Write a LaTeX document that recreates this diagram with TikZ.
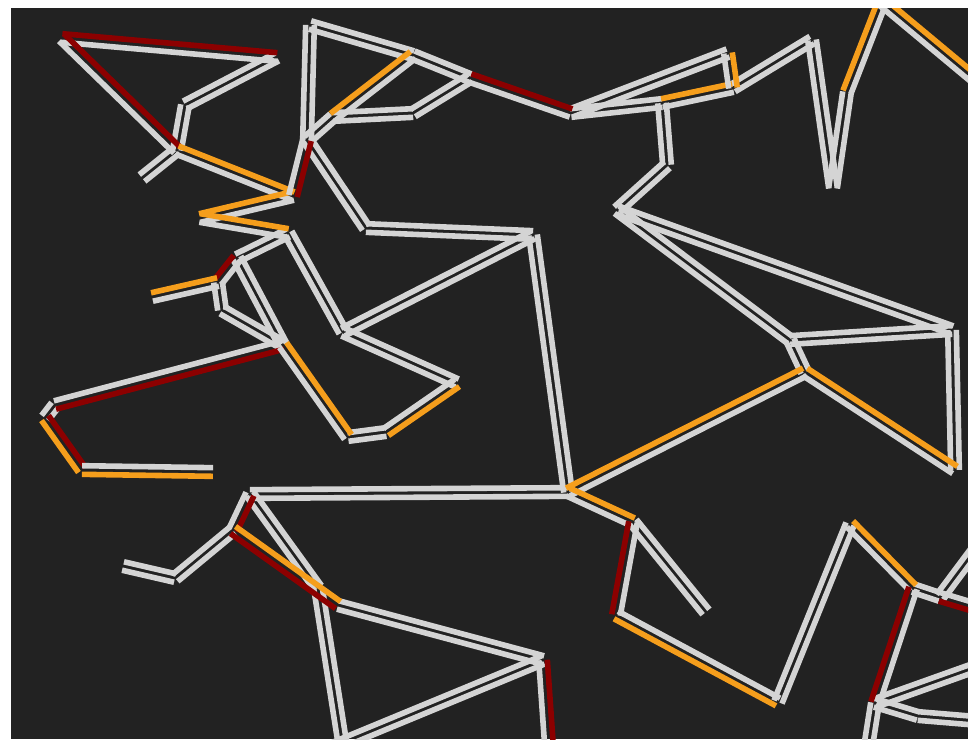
\documentclass[tikz,border=0pt]{standalone}
\usepackage{xcolor}
\usepackage{tikz}
\usetikzlibrary{calc}
\definecolor{roadbg}{RGB}{34,34,34}
\definecolor{lanefree}{RGB}{212,212,212}
\definecolor{laneslow}{RGB}{245,158,28}
\definecolor{lanejam}{RGB}{140,0,0}
\newcommand\laneoff{1.08mm}
% one street = two lanes, one on each side of the axis from #1 to #2
\newcommand\lanepair[4]{%
  \draw[#3] ($(#1)!\laneoff!90:(#2)$) -- ($(#2)!\laneoff!-90:(#1)$);
  \draw[#4] ($(#2)!\laneoff!90:(#1)$) -- ($(#1)!\laneoff!-90:(#2)$);}
\tikzset{
  lane/.style={line width=1.4mm},
  free/.style={lane, lanefree},
  slow/.style={lane, laneslow},
  jam/.style={lane, lanejam}
}

\begin{document}
\begin{tikzpicture}[x=0.25mm, y=-0.25mm]
  \useasboundingbox (0,0) rectangle (979,746);
  \fill[white] (0,0) rectangle (979,746);
  \fill[roadbg] (11,8) rectangle (968,739);
  \clip (11,8) rectangle (968,739);

  % crossings
  \coordinate (a) at (62,38);    \coordinate (b) at (277,57);
  \coordinate (c) at (185,105);  \coordinate (d) at (177,150);
  \coordinate (e) at (142,178);  \coordinate (f) at (293,196);
  \coordinate (g) at (200,218);  \coordinate (h) at (288,233);
  \coordinate (i) at (307,140);  \coordinate (j) at (310,25);
  \coordinate (m) at (413,55);   \coordinate (k) at (470,78);
  \coordinate (l) at (571,113);  \coordinate (n) at (333,117);
  \coordinate (o) at (413,113);  \coordinate (p) at (366,228);
  \coordinate (q) at (533,235);  \coordinate (r) at (728,53);
  \coordinate (u) at (662,103);  \coordinate (s) at (733,88);
  \coordinate (t) at (812,40);   \coordinate (v) at (667,165);
  \coordinate (w) at (617,210);  \coordinate (x) at (833,188);
  \coordinate (y) at (847,92);   \coordinate (z) at (882,2);
  \coordinate (aa) at (952,330); \coordinate (bb) at (790,340);
  \coordinate (cc) at (805,372); \coordinate (dd) at (955,470);
  \coordinate (ee) at (568,492); \coordinate (rr) at (343,332);
  \coordinate (ss) at (237,258); \coordinate (tt) at (218,282);
  \coordinate (uu) at (152,297); \coordinate (vv) at (222,310);
  \coordinate (ww) at (283,345); \coordinate (xx) at (55,405);
  \coordinate (yy) at (45,418);  \coordinate (zz) at (82,470);
  \coordinate (ab) at (348,437); \coordinate (ac) at (386,432);
  \coordinate (ad) at (457,383); \coordinate (ae) at (250,494);
  \coordinate (af) at (633,522); \coordinate (ag) at (706,612);
  \coordinate (ah) at (616,615); \coordinate (ai) at (778,702);
  \coordinate (aj) at (850,524); \coordinate (ak) at (913,588);
  \coordinate (al) at (940,597); \coordinate (an) at (875,703);
  \coordinate (ao) at (918,716); \coordinate (ap) at (233,530);
  \coordinate (aq) at (175,578); \coordinate (ar) at (123,566);
  \coordinate (as) at (338,605); \coordinate (at) at (318,588);
  \coordinate (au) at (543,660);
  % dead ends and exits
  \coordinate (endw) at (213,472);
  \coordinate (outne) at (990,92);  \coordinate (oute1) at (990,612);
  \coordinate (oute2) at (990,530); \coordinate (oute3) at (990,662);
  \coordinate (oute4) at (990,722); \coordinate (outs1) at (866,760);
  \coordinate (outs2) at (345,760); \coordinate (outs3) at (301,760);
  \coordinate (outs4) at (550,760);

  % free flowing streets
  \foreach \p/\q in {b/c, c/d, d/e, i/j, j/m, m/k, n/o, o/k, n/i, i/p,
      p/q, l/r, l/u, s/t, u/v, v/w, t/x, x/y, w/aa, w/bb, bb/aa, bb/cc,
      aa/dd, q/rr, q/ee, h/ss, h/rr, tt/vv, vv/ww, ss/ww, xx/yy, ab/ac,
      ad/rr, ae/ee, af/ag, ai/aj, ak/al, al/oute2, an/outs1, an/oute3,
      an/ao, ao/oute4, ap/aq, aq/ar, ae/at, at/outs2, as/au, au/outs3}
    \lanepair{\p}{\q}{free}{free};

  % slowed and jammed lanes
  \lanepair{a}{b}{jam}{free}
  \lanepair{a}{d}{jam}{free}
  \lanepair{d}{f}{slow}{free}
  \lanepair{g}{f}{slow}{free}
  \lanepair{g}{h}{slow}{free}
  \lanepair{f}{i}{free}{jam}
  \lanepair{k}{l}{jam}{free}
  \lanepair{n}{m}{slow}{free}
  \lanepair{u}{s}{slow}{free}
  \lanepair{r}{s}{slow}{free}
  \lanepair{y}{z}{slow}{free}
  \lanepair{z}{outne}{slow}{free}
  \lanepair{cc}{dd}{slow}{free}
  \lanepair{ee}{cc}{slow}{free}
  \lanepair{tt}{ss}{jam}{free}
  \lanepair{uu}{tt}{slow}{free}
  \lanepair{xx}{ww}{free}{jam}
  \lanepair{yy}{zz}{jam}{slow}
  \lanepair{zz}{endw}{free}{slow}
  \lanepair{ww}{ab}{slow}{free}
  \lanepair{ac}{ad}{free}{slow}
  \lanepair{ee}{af}{slow}{free}
  \lanepair{af}{ah}{free}{jam}
  \lanepair{ah}{ai}{free}{slow}
  \lanepair{aj}{ak}{slow}{free}
  \lanepair{al}{oute1}{free}{jam}
  \lanepair{ak}{an}{free}{jam}
  \lanepair{ae}{ap}{jam}{free}
  \lanepair{ap}{as}{slow}{jam}
  \lanepair{au}{outs4}{jam}{free}
\end{tikzpicture}
\end{document}
